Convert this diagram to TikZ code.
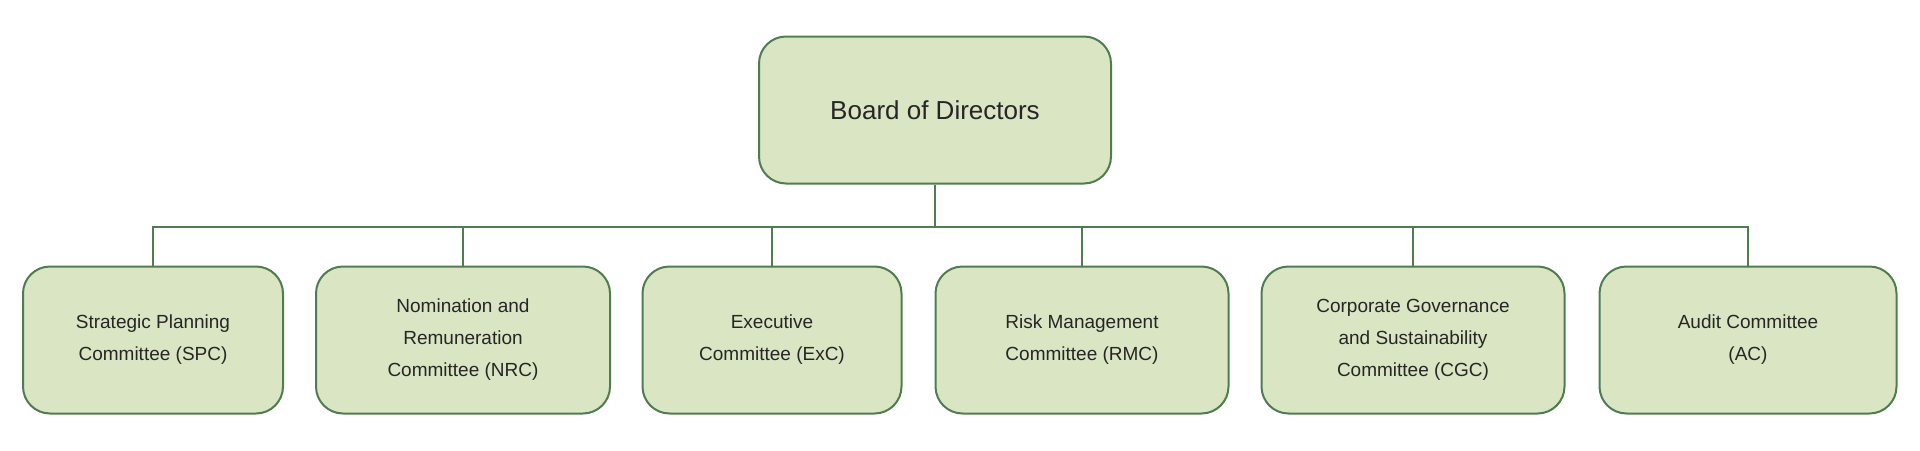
\documentclass[tikz,border=0pt]{standalone}
\usepackage{fontspec}
\setmainfont{Liberation Sans}
\definecolor{boxfill}{HTML}{D9E5C3}
\definecolor{boxline}{HTML}{4F7D4F}
\begin{document}
\begin{tikzpicture}[x=1pt,y=-1pt,
  box/.style={draw=boxline,line width=2pt,fill=boxfill,rounded corners=27pt,align=center,font=\fontsize{19}{32}\selectfont,text=black!85,minimum height=147pt},
  conn/.style={draw=boxline,line width=1.8pt}]
\useasboundingbox (0,0) rectangle (1920,450);
\node[box,minimum width=352pt] (bod) at (935,110) {\fontsize{26}{30}\selectfont Board of Directors};
\node[box,minimum width=260pt] (spc) at (153,340) {Strategic Planning\\Committee (SPC)};
\node[box,minimum width=294pt] (nrc) at (463,340) {Nomination and\\Remuneration\\Committee (NRC)};
\node[box,minimum width=259pt] (exc) at (772,340) {Executive\\Committee (ExC)};
\node[box,minimum width=293pt] (rmc) at (1082,340) {Risk Management\\Committee (RMC)};
\node[box,minimum width=303pt] (cgc) at (1413,340) {Corporate Governance\\and Sustainability\\Committee (CGC)};
\node[box,minimum width=297pt] (ac) at (1748,340) {Audit Committee\\(AC)};
\coordinate (bus) at (935,227);
\draw[conn] (bod.south) -- (bus);
\draw[conn] (spc.north) -- (spc.north |- bus) -- (ac.north |- bus) -- (ac.north);
\foreach \n in {nrc,exc,rmc,cgc} \draw[conn] (\n.north) -- (\n.north |- bus);
\end{tikzpicture}
\end{document}
